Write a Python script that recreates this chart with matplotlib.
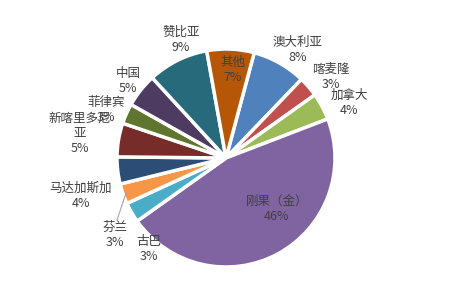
import numpy as np
import matplotlib
matplotlib.use('Agg')
import matplotlib.pyplot as plt

plt.rcParams['font.family'] = ['Noto Sans CJK SC', 'DejaVu Sans']

# share of world output, percent
countries = ['澳大利亚', '喀麦隆', '加拿大', '刚果（金）', '古巴', '芬兰',
             '马达加斯加', '新喀里多尼亚', '菲律宾', '中国', '赞比亚', '其他']
shares = [8, 3, 4, 46, 3, 3, 4, 5, 3, 5, 9, 7]
label_names = ['澳大利亚', '喀麦隆', '加拿大', '刚果（金）', '古巴', '芬兰',
               '马达加斯加', '新喀里多尼\n亚', '菲律宾', '中国', '赞比亚', '其他']

colors = ['#4F81BD', '#C0504D', '#9BBB59', '#8064A2', '#4BACC6', '#F79646',
          '#2C4D75', '#772C2A', '#5F7530', '#4D3B62', '#276A7C', '#B65708']

# label block centres, pixels from top-left
label_xy = [(298, 50), (331, 77), (349, 103), (277, 209), (149, 249), (115, 235),
            (81, 196), (80, 133), (106, 110), (128, 81), (181, 40), (233, 70)]

W, H = 464, 288
fig = plt.figure(figsize=(W / 100, H / 100), dpi=100)
ax = fig.add_axes([0, 0, 1, 1])
cx, cy, R = 226, H - 158, 109

wedges, _ = ax.pie(shares, colors=colors, startangle=75, counterclock=False,
                   center=(cx, cy), radius=R,
                   wedgeprops=dict(edgecolor='white', linewidth=2.5))

for i, (name, v) in enumerate(zip(label_names, shares)):
    x, y = label_xy[i]
    ax.text(x, H - y, name + '\n' + str(v) + '%', ha='center', va='center',
            fontsize=9, color='#404040', linespacing=1.2)

# leader line for 芬兰
w = wedges[countries.index('芬兰')]
ang = np.deg2rad((w.theta1 + w.theta2) / 2)
ax.plot([cx + R * np.cos(ang) * 0.97, 117], [cy + R * np.sin(ang) * 0.97, H - 220],
        color='#A6A6A6', lw=0.8)

ax.set_xlim(0, W)
ax.set_ylim(0, H)
ax.set_aspect('equal')
ax.axis('off')
fig.savefig('out.png', dpi=100)
